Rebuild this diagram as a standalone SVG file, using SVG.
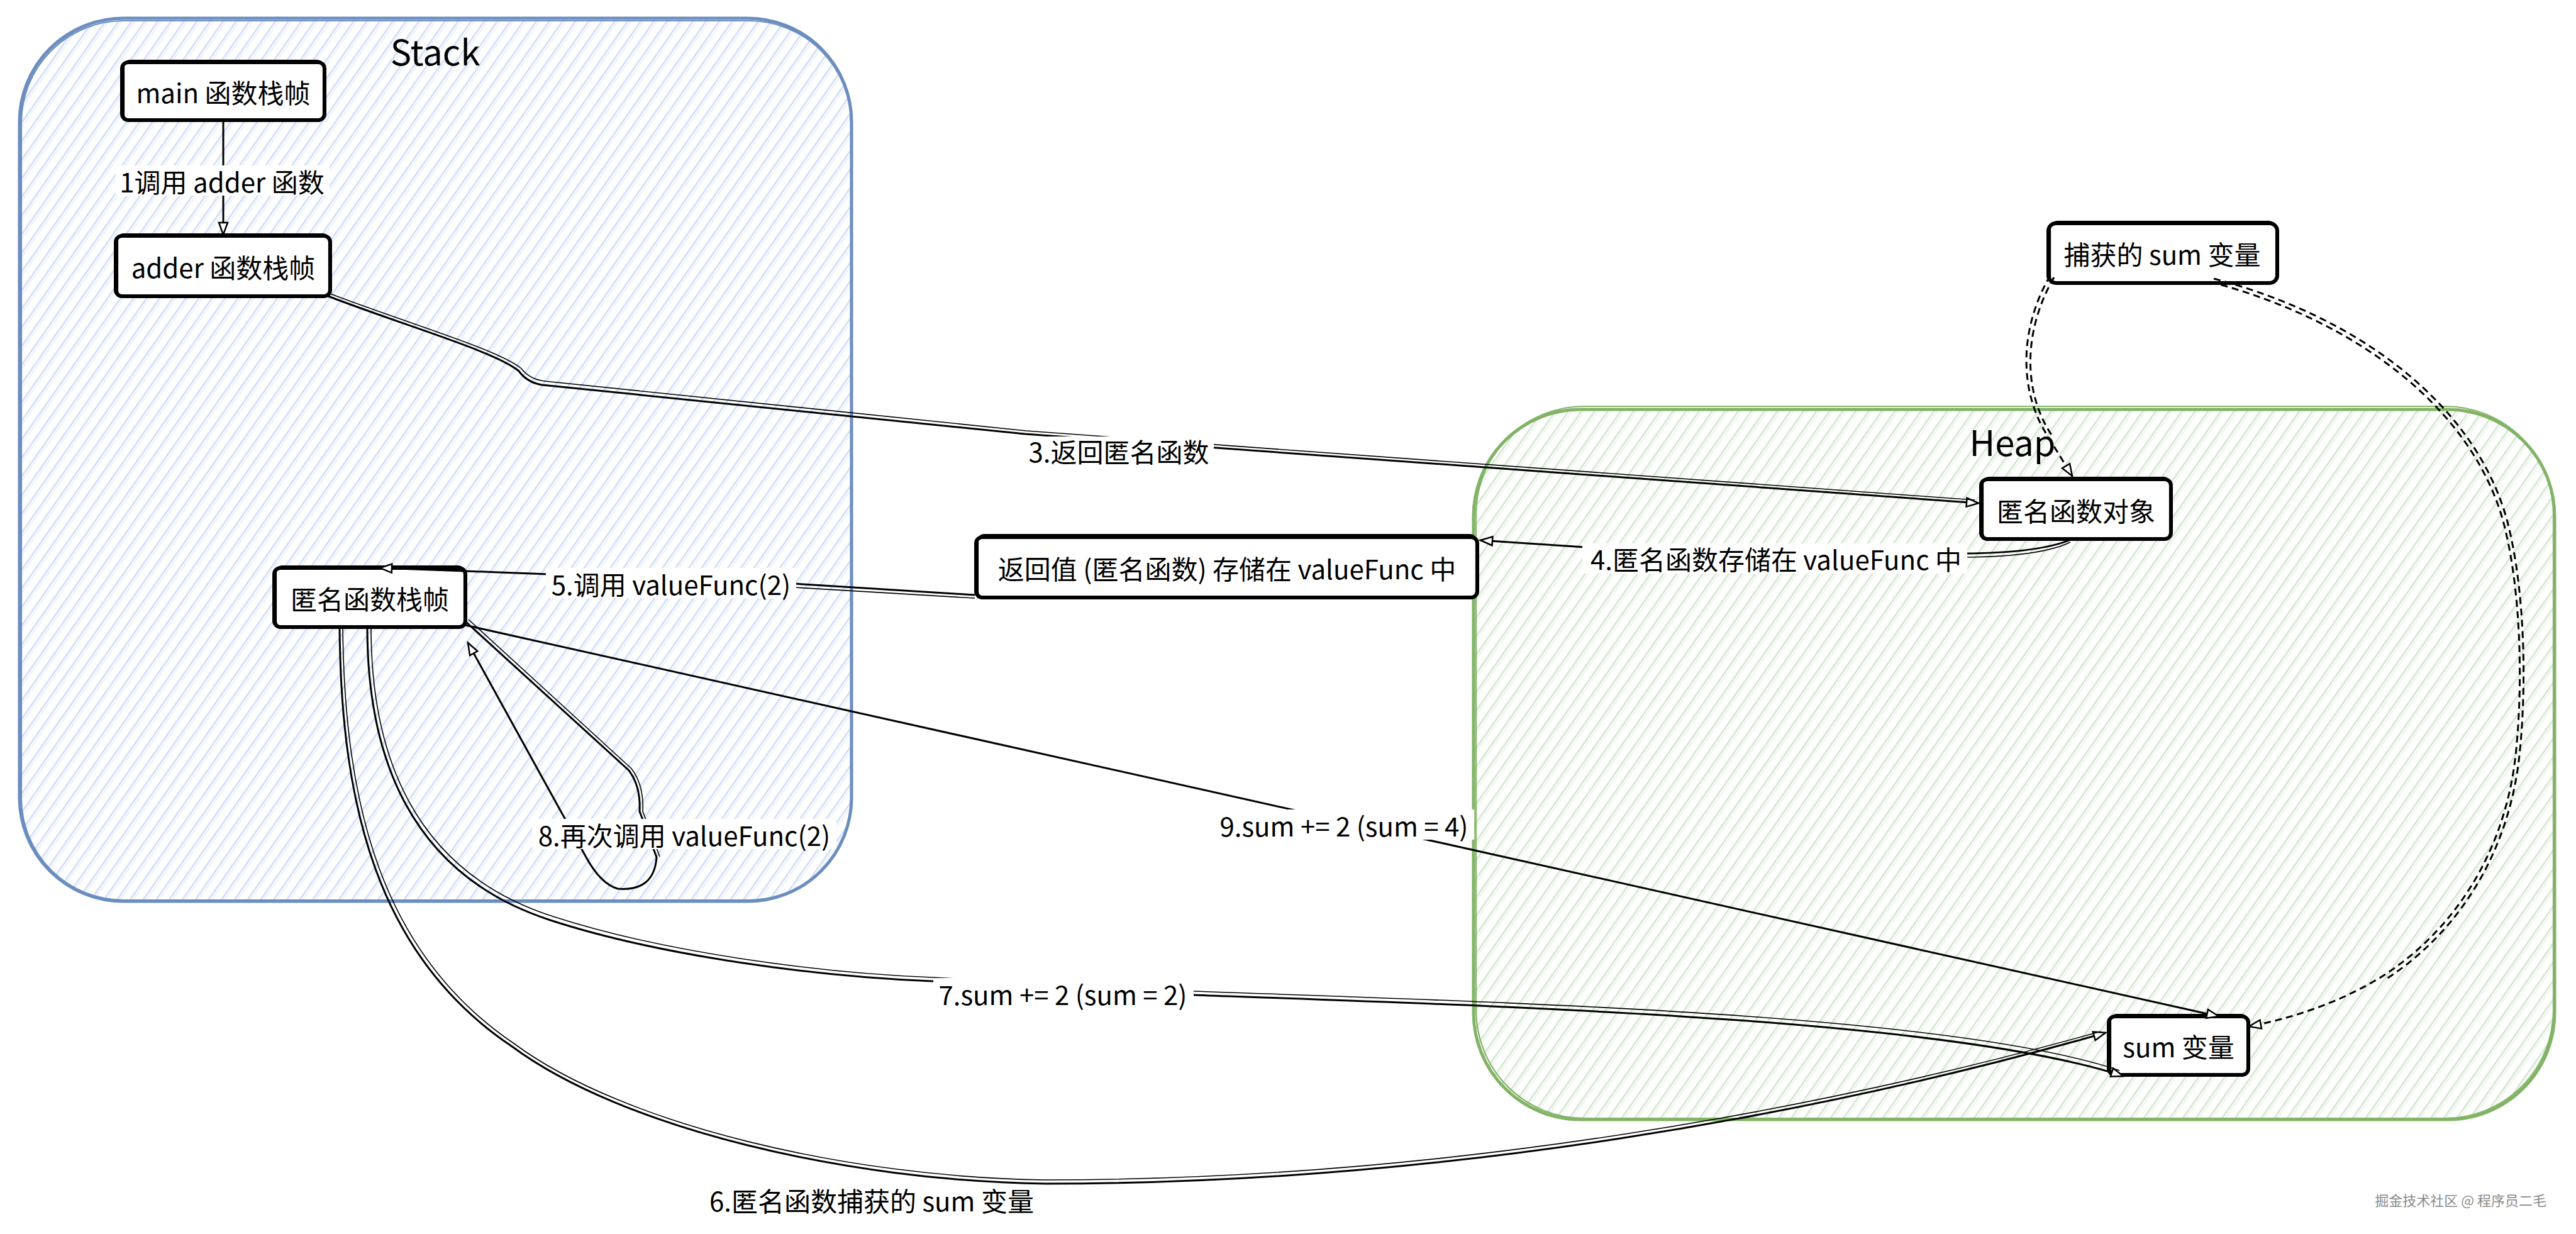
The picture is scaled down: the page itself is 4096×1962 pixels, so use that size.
<svg xmlns="http://www.w3.org/2000/svg" width="4096" height="1962" viewBox="0 0 4096 1962">
<style>
text{font-family:"Noto Sans CJK SC","Noto Sans",sans-serif;fill:#000;}
.lbl{font-size:42px;text-anchor:middle;dominant-baseline:central;}
.title{font-size:56px;text-anchor:middle;}
.node rect.b{fill:#fff;stroke:#000;stroke-width:6;}
.node rect.g{fill:none;stroke:#000;stroke-width:2.2;}
.e{fill:none;stroke:#000;stroke-width:3;}
.gh{fill:none;stroke:#000;stroke-width:1.6;}
.d{fill:none;stroke:#000;stroke-width:3;stroke-dasharray:11 7;}
.lb{fill:#fff;stroke:none;}
</style>
<defs>
<pattern id="hB" patternUnits="userSpaceOnUse" width="17" height="60" patternTransform="rotate(35)">
<line x1="4" y1="0" x2="4" y2="60" stroke="#cfdcf6" stroke-width="2.6"/>
<line x1="8" y1="0" x2="8" y2="60" stroke="#dde7fa" stroke-width="1.2"/>
</pattern>
<pattern id="hG" patternUnits="userSpaceOnUse" width="17" height="60" patternTransform="rotate(35)">
<line x1="4" y1="0" x2="4" y2="60" stroke="#d2e5cf" stroke-width="2.6"/>
<line x1="8" y1="0" x2="8" y2="60" stroke="#e0eedd" stroke-width="1.2"/>
</pattern>
<marker id="arr" markerUnits="userSpaceOnUse" markerWidth="26" markerHeight="20" refX="21" refY="10" orient="auto">
<path d="M2,3 L21,10 L2,17 z" fill="#fff" stroke="#000" stroke-width="2.5"/>
</marker>
</defs>
<rect width="4096" height="1962" fill="#fff"/>

<g id="stack">
<rect x="31" y="29" width="1323" height="1404" rx="165" fill="url(#hB)" stroke="#6c8ebf" stroke-width="5"/>
<rect x="34" y="33" width="1319" height="1398" rx="162" fill="none" stroke="#6c8ebf" stroke-width="2.2"/>
<text class="title" x="692" y="104">Stack</text>
</g>
<g id="heap">
<rect x="2343" y="651" width="1719" height="1129" rx="170" fill="url(#hG)" stroke="#82b366" stroke-width="5"/>
<rect x="2347" y="646" width="1713" height="1132" rx="172" fill="none" stroke="#82b366" stroke-width="2.2"/>
<text class="title" x="3200" y="725">Heap</text>
</g>

<g id="n-main" class="node">
<rect class="b" x="194" y="99" width="322" height="92" rx="10"/>
<rect class="g" x="197" y="96" width="317" height="96" rx="10"/>
<text class="lbl" x="355" y="145">main 函数栈帧</text>
</g>
<g id="n-adder" class="node">
<rect class="b" x="184" y="375" width="341" height="96" rx="10"/>
<rect class="g" x="187" y="372" width="336" height="100" rx="10"/>
<text class="lbl" x="355" y="423">adder 函数栈帧</text>
</g>
<g id="n-captured" class="node">
<rect class="b" x="3257" y="355" width="364" height="95" rx="12"/>
<rect class="g" x="3260" y="352" width="359" height="99" rx="12"/>
<text class="lbl" x="3438" y="402">捕获的 sum 变量</text>
</g>
<g id="n-anonobj" class="node">
<rect class="b" x="3150" y="762" width="302" height="95" rx="10"/>
<rect class="g" x="3153" y="759" width="297" height="99" rx="10"/>
<text class="lbl" x="3301" y="810">匿名函数对象</text>
</g>
<g id="n-retval" class="node">
<rect class="b" x="1552" y="854" width="797" height="96" rx="10"/>
<rect class="g" x="1555" y="850" width="792" height="101" rx="10"/>
<text class="lbl" x="1951" y="902">返回值 (匿名函数) 存储在 valueFunc 中</text>
</g>
<g id="n-anonframe" class="node">
<rect class="b" x="436" y="903" width="304" height="94" rx="10"/>
<rect class="g" x="439" y="900" width="299" height="98" rx="10"/>
<text class="lbl" x="588" y="950">匿名函数栈帧</text>
</g>
<g id="n-sum" class="node">
<rect class="b" x="3353" y="1616" width="222" height="93" rx="10"/>
<rect class="g" x="3356" y="1613" width="217" height="97" rx="10"/>
<text class="lbl" x="3464" y="1662">sum 变量</text>
</g>

<g id="connectors">
<path class="e" d="M355,191 L355,373" marker-end="url(#arr)"/>
<path class="e" d="M522,471 C650,520 790,560 825,590 Q838,608 862,612 L1630,690 L3146,800" marker-end="url(#arr)"/>
<path class="gh" d="M525,467 C654,516 793,556 829,586 Q842,603 866,606 L1632,685 L3140,795"/>
<path class="e" d="M3295,857 Q3245,879 3124,880 L2520,870 L2354,859" marker-end="url(#arr)"/>
<path class="gh" d="M3292,862 Q3245,885 3124,886 L2520,874"/>
<path class="e" d="M1550,946 L1263,928 L872,913 L740,908 L604,903" marker-end="url(#arr)"/>
<path class="gh" d="M1550,951 L1263,934"/>
<path class="e" d="M540,997 C542,1280 600,1520 813,1663 C990,1795 1350,1878 1663,1882 C2300,1882 2900,1770 3348,1642" marker-end="url(#arr)"/>
<path class="gh" d="M545,999 C548,1280 606,1516 817,1659 C994,1790 1352,1872 1663,1876 C2300,1876 2898,1764 3340,1640"/>
<path class="e" d="M584,997 C584,1200 650,1390 875,1463 C1050,1520 1300,1553 1482,1560 L1898,1582 C2400,1600 3100,1620 3376,1711" marker-end="url(#arr)"/>
<path class="gh" d="M590,998 C590,1198 656,1385 879,1457 C1054,1514 1302,1547 1482,1554 L1898,1576 C2400,1594 3104,1612 3370,1702"/>
<path class="e" d="M740,988 L1000,1225 Q1019,1250 1017,1290 L1044,1363 Q1040,1418 982,1413 Q955,1405 932,1363 L894,1294 L744,1022" marker-end="url(#arr)"/>
<path class="gh" d="M745,985 L1004,1222 Q1024,1248 1022,1290 L1049,1362"/>
<path class="e" d="M740,994 L3528,1616" marker-end="url(#arr)"/>
<path class="d" d="M3514,448 C3750,510 3930,650 3980,828 C4010,940 4012,1100 3999,1209 C3980,1360 3900,1480 3790,1551 C3720,1595 3640,1620 3576,1632" marker-end="url(#arr)"/>
<path class="d" d="M3520,443 C3756,505 3936,646 3986,826 C4016,938 4018,1100 4005,1210 C3986,1362 3906,1484 3795,1556"/>
<path class="d" d="M3260,438 C3212,520 3208,620 3257,695 L3295,757" marker-end="url(#arr)"/>
<path class="d" d="M3266,441 C3219,522 3214,620 3263,693"/>

<rect class="lb" x="184" y="263" width="340" height="48"/>
<text class="lbl" x="353" y="287">1调用 adder 函数</text>
<rect class="lb" x="1628" y="694" width="302" height="46"/>
<text class="lbl" x="1779" y="716">3.返回匿名函数</text>
<rect class="lb" x="2516" y="864" width="612" height="48"/>
<text class="lbl" x="2824" y="887">4.匿名函数存储在 valueFunc 中</text>
<rect class="lb" x="868" y="903" width="398" height="48"/>
<text class="lbl" x="1067" y="927">5.调用 valueFunc(2)</text>
<rect class="lb" x="1118" y="1884" width="538" height="48"/>
<text class="lbl" x="1386" y="1907">6.匿名函数捕获的 sum 变量</text>
<rect class="lb" x="1484" y="1555" width="414" height="48"/>
<text class="lbl" x="1690" y="1579">7.sum += 2 (sum = 2)</text>
<rect class="lb" x="846" y="1302" width="484" height="48"/>
<text class="lbl" x="1088" y="1326">8.再次调用 valueFunc(2)</text>
<rect class="lb" x="1930" y="1287" width="414" height="48"/>
<text class="lbl" x="2137" y="1311">9.sum += 2 (sum = 4)</text>
</g>

<text x="4049" y="1917" font-size="22" text-anchor="end" style="fill:#8a8a8a">掘金技术社区 @ 程序员二毛</text>
</svg>
